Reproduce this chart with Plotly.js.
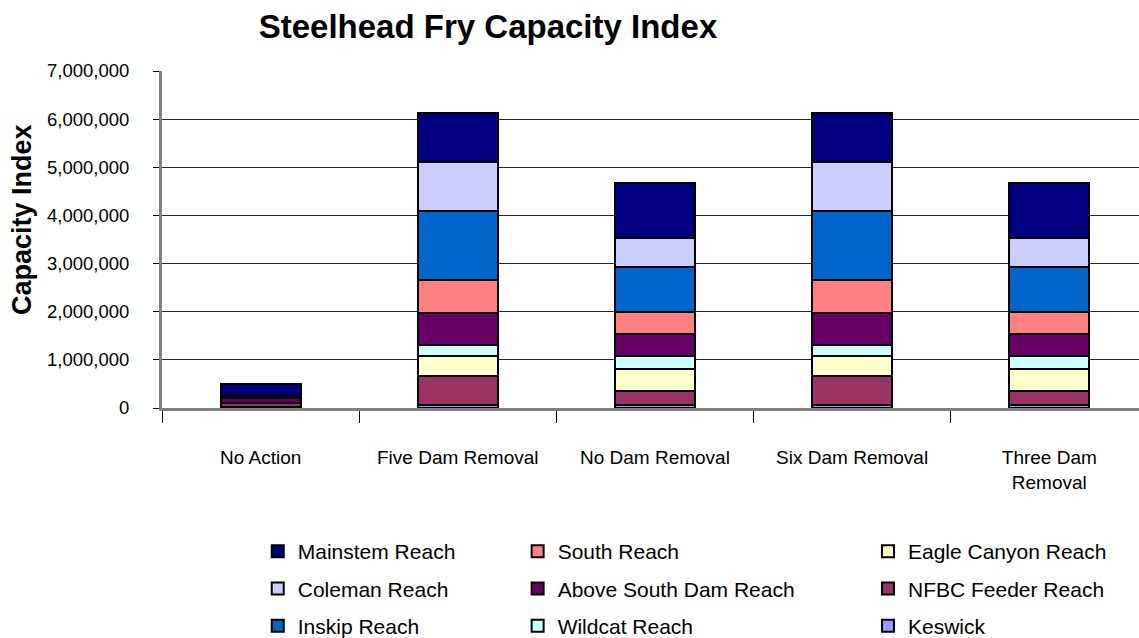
<!DOCTYPE html>
<html>
<head>
<meta charset="utf-8">
<script src="https://cdn.plot.ly/plotly-3.0.1.min.js"></script>
<style>
  html, body { margin: 0; padding: 0; background: #fff; }
  #chart { width: 1139px; height: 638px; }
</style>
</head>
<body>
<div id="chart"></div>
<script>
// Steelhead fry capacity index, stacked by reach

var scenarios = ["No Action", "Five Dam Removal", "No Dam Removal", "Six Dam Removal", "Three Dam Removal"];
var scenarioLabels = ["No Action", "Five Dam Removal", "No Dam Removal", "Six Dam Removal", "Three Dam<br>Removal"];

// values, bottom of stack first
var keswick    = [30000, 60000, 60000, 60000, 60000];
var nfbcFeeder = [80000, 605000, 300000, 605000, 300000];
var eagleCanyon = [0, 415000, 440000, 415000, 440000];
var wildcat    = [0, 230000, 270000, 230000, 270000];
var aboveSouth = [100000, 660000, 460000, 660000, 460000];
var south      = [30000, 690000, 460000, 690000, 460000];
var inskip     = [0, 1440000, 930000, 1440000, 930000];
var coleman    = [10000, 1000000, 605000, 1000000, 605000];
var mainstem   = [250000, 1020000, 1145000, 1020000, 1145000];

var yTicks = [0, 1000000, 2000000, 3000000, 4000000, 5000000, 6000000, 7000000];

var font = "Liberation Sans, Arial, sans-serif";

function reach(name, values, color, legend, rank) {
  return {
    type: 'bar',
    name: name,
    x: scenarios,
    y: values,
    legend: legend,
    legendgroup: name,
    legendrank: rank,
    marker: { color: color, line: { color: '#000000', width: 2 } },
    hoverinfo: 'name+y'
  };
}

var data = [
  reach("Keswick", keswick, '#9999FF', 'legend3', 9),
  reach("NFBC Feeder Reach", nfbcFeeder, '#993366', 'legend3', 8),
  reach("Eagle Canyon Reach", eagleCanyon, '#FFFFCC', 'legend3', 7),
  reach("Wildcat Reach", wildcat, '#CCFFFF', 'legend2', 6),
  reach("Above South Dam Reach", aboveSouth, '#660066', 'legend2', 5),
  reach("South Reach", south, '#FF8080', 'legend2', 4),
  reach("Inskip Reach", inskip, '#0066CC', 'legend', 3),
  reach("Coleman Reach", coleman, '#CCCCFF', 'legend', 2),
  reach("Mainstem Reach", mainstem, '#000080', 'legend', 1)
];

var legendBase = {
  orientation: 'v',
  yanchor: 'top',
  y: -0.365,
  traceorder: 'grouped',
  tracegroupgap: 7,
  font: { family: font, size: 21, color: '#000' },
  bgcolor: 'rgba(0,0,0,0)'
};

var layout = {
  width: 1139,
  height: 638,
  margin: { l: 162, r: 0, t: 71, b: 230, autoexpand: false },
  paper_bgcolor: '#ffffff',
  plot_bgcolor: '#ffffff',
  barmode: 'stack',
  bargap: 0.595,
  showlegend: true,
  title: {
    text: '<b>Steelhead Fry Capacity Index</b>',
    font: { family: font, size: 33, color: '#000' },
    xref: 'container', x: 488 / 1139, xanchor: 'center',
    yref: 'container', y: 0.9763, yanchor: 'top'
  },
  xaxis: {
    type: 'category',
    range: [-0.5, 4.455],
    tickvals: scenarios,
    ticktext: scenarioLabels,
    tickson: 'boundaries',
    ticks: 'outside',
    ticklen: 12,
    tickcolor: '#000',
    tickwidth: 1,
    ticklabelstandoff: 30,
    tickfont: { family: font, size: 19, color: '#000' },
    showline: true,
    linecolor: '#808080',
    linewidth: 3,
    showgrid: false,
    fixedrange: true
  },
  yaxis: {
    range: [0, 7000000],
    tickvals: yTicks,
    tickformat: ',d',
    ticks: 'outside',
    ticklen: 6,
    tickcolor: '#000',
    ticklabelstandoff: 20,
    tickfont: { family: font, size: 18.5, color: '#000' },
    showline: true,
    linecolor: '#808080',
    linewidth: 3,
    showgrid: true,
    gridcolor: '#222222',
    gridwidth: 1,
    zeroline: false,
    fixedrange: true
  },
  legend: Object.assign({}, legendBase, { x: 0.098 }),
  legend2: Object.assign({}, legendBase, { x: 0.364 }),
  legend3: Object.assign({}, legendBase, { x: 0.7226 }),
  annotations: [{
    text: '<b>Capacity Index</b>',
    textangle: -90,
    xref: 'paper', yref: 'paper',
    x: (22 - 162) / 977, xanchor: 'center',
    y: (408 - 220) / 337, yanchor: 'middle',
    showarrow: false,
    font: { family: font, size: 27, color: '#000' }
  }]
};

Plotly.newPlot('chart', data, layout, { displayModeBar: false, staticPlot: true });
</script>
</body>
</html>
